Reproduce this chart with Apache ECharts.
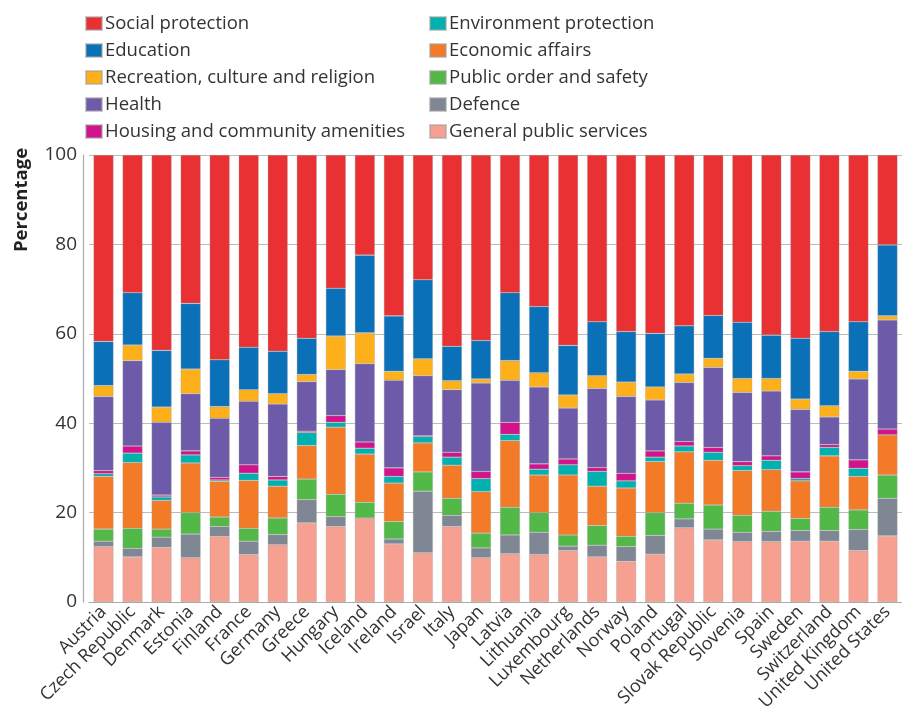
<!DOCTYPE html>
<html>
<head>
<meta charset="utf-8">
<script src="https://cdn.jsdelivr.net/npm/echarts@6/dist/echarts.min.js"></script>
<style>html,body{margin:0;padding:0;background:#fff}#c{width:902px;height:710px}</style>
</head>
<body>
<div id="c"></div>
<script>
const categories = ["Austria","Czech Republic","Denmark","Estonia","Finland","France","Germany","Greece","Hungary","Iceland","Ireland","Israel","Italy","Japan","Latvia","Lithuania","Luxembourg","Netherlands","Norway","Poland","Portugal","Slovak Republic","Slovenia","Spain","Sweden","Switzerland","United Kingdom","United States"];
const yTicks = [0, 20, 40, 60, 80, 100];

const generalPublicServices = [12.4,10.1,12.2,9.9,14.7,10.6,12.8,17.7,16.9,18.8,13.0,11.0,16.9,9.9,10.8,10.6,11.5,10.1,9.1,10.7,16.6,13.9,13.5,13.5,13.6,13.6,11.5,14.8];
const defence = [1.2,1.9,2.3,5.3,2.2,3.0,2.3,5.2,2.2,0,1.1,13.8,2.5,2.2,4.2,5.0,1.0,2.6,3.3,4.2,2.0,2.4,2.1,2.3,2.4,2.4,4.7,8.4];
const publicOrderSafety = [2.7,4.5,1.8,4.8,2.1,2.9,3.7,4.6,5.0,3.5,3.9,4.3,3.8,3.3,6.2,4.4,2.5,4.4,2.3,5.1,3.5,5.4,3.8,4.5,2.7,5.2,4.4,5.2];
const economicAffairs = [11.8,14.7,6.4,11.1,8.0,10.7,7.1,7.5,15.0,10.8,8.6,6.5,7.4,9.3,14.9,8.4,13.4,8.8,10.8,11.4,11.5,10.0,10.0,9.3,8.4,11.5,7.5,9.0];
const environmentProtection = [0.6,2.1,0.8,1.8,0.3,1.6,1.4,2.9,1.1,1.3,1.5,1.4,1.8,2.9,1.4,1.3,2.3,3.3,1.6,1.0,1.3,1.8,1.1,2.1,0.5,1.9,1.8,0];
const housingCommunity = [0.7,1.6,0.4,0.9,0.6,1.9,0.8,0.3,1.5,1.4,1.9,0.2,1.1,1.6,2.7,1.2,1.3,0.9,1.7,1.4,1.0,1.1,0.9,1.0,1.5,0.6,1.9,1.3];
const health = [16.6,19.1,16.3,12.8,13.2,14.2,16.2,11.1,10.3,17.5,19.6,13.4,14.0,19.8,9.4,17.2,11.4,17.7,17.2,11.4,13.2,17.9,15.5,14.5,14.0,6.2,18.1,24.4];
const recreationCulture = [2.4,3.5,3.4,5.5,2.6,2.6,2.3,1.6,7.5,6.9,2.0,3.8,2.0,0.9,4.4,3.2,2.9,2.8,3.2,2.9,1.9,2.0,3.1,2.8,2.3,2.5,1.7,0.9];
const education = [9.9,11.7,12.7,14.7,10.5,9.5,9.5,8.1,10.7,17.4,12.4,17.7,7.7,8.6,15.2,14.8,11.1,12.1,11.3,12.0,10.8,9.6,12.6,9.7,13.6,16.6,11.1,15.9];
const socialProtection = [41.7,30.8,43.7,33.2,45.8,43.0,43.9,41.0,29.8,22.4,36.0,27.9,42.8,41.5,30.8,33.9,42.6,37.3,39.5,39.9,38.2,35.9,37.4,40.3,41.0,39.5,37.3,20.1];

const seriesDefs = [
  {name: "General public services", data: generalPublicServices, color: "#F5A090"},
  {name: "Defence", data: defence, color: "#7E8793"},
  {name: "Public order and safety", data: publicOrderSafety, color: "#52B848"},
  {name: "Economic affairs", data: economicAffairs, color: "#F37B27"},
  {name: "Environment protection", data: environmentProtection, color: "#00B1AF"},
  {name: "Housing and community amenities", data: housingCommunity, color: "#D3138B"},
  {name: "Health", data: health, color: "#6D5AA8"},
  {name: "Recreation, culture and religion", data: recreationCulture, color: "#FDB01A"},
  {name: "Education", data: education, color: "#0A71B9"},
  {name: "Social protection", data: socialProtection, color: "#E93033"}
];

const FONT = "Open Sans";
const chart = echarts.init(document.getElementById('c'), null, {renderer: 'canvas'});
const legendCommon = {
  orient: 'vertical',
  itemWidth: 16,
  itemHeight: 13,
  itemGap: 8,
  icon: 'rect',
  selectedMode: false,
  textStyle: {fontFamily: FONT, fontSize: 18.5, color: '#333', lineHeight: 18.5, padding: [0,0,0,-2]}
};
chart.setOption({
  animation: false,
  textStyle: {fontFamily: FONT},
  legend: [
    Object.assign({}, legendCommon, {left: 80, top: 9, data: ["Social protection","Education","Recreation, culture and religion","Health","Housing and community amenities"]}),
    Object.assign({}, legendCommon, {left: 424, top: 9, data: ["Environment protection","Economic affairs","Public order and safety","Defence","General public services"]})
  ],
  graphic: [{
    type: 'text',
    rotation: Math.PI / 2,
    x: 22, y: 200,
    style: {text: 'Percentage', font: 'bold 18.5px "Open Sans"', fill: '#222', textAlign: 'center', textVerticalAlign: 'middle'}
  }],
  grid: {left: 89, right: 0, top: 155, bottom: 108, containLabel: false, outerBoundsMode: 'none'},
  xAxis: {
    type: 'category',
    data: categories,
    axisTick: {show: false},
    axisLine: {show: true, lineStyle: {color: '#aaa', width: 1.2}},
    axisLabel: {rotate: 45, fontSize: 18, color: '#333', fontFamily: FONT, interval: 0, margin: 7}
  },
  yAxis: {
    type: 'value',
    min: 0, max: 100, interval: 20,
    offset: 6,
    axisLine: {show: true, lineStyle: {color: '#aaa', width: 1.2}},
    axisTick: {show: false},
    splitLine: {lineStyle: {color: '#bbb', width: 1.2}},
    axisLabel: {fontSize: 19, color: '#333', fontFamily: FONT, margin: 6,
      formatter: function (v) { return yTicks.indexOf(v) >= 0 ? String(v) : ''; }}
  },
  series: seriesDefs.map(s => ({
    name: s.name,
    type: 'bar',
    stack: 'total',
    barWidth: 20,
    data: s.data,
    itemStyle: {color: s.color, borderColor: 'rgba(160,160,160,0.55)', borderWidth: 0.6}
  }))
});
</script>
</body>
</html>
